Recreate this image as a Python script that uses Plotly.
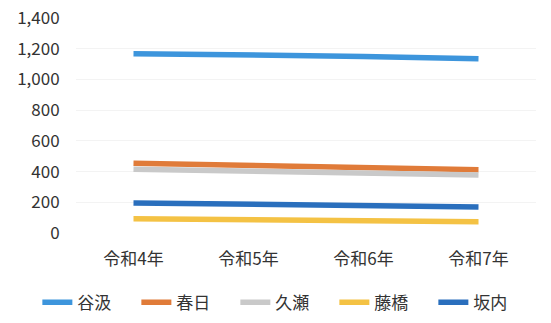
import plotly.graph_objects as go

categories = ["令和4年", "令和5年", "令和6年", "令和7年"]
series_names = ["谷汲", "春日", "久瀬", "藤橋", "坂内"]
tanigumi = [1168, 1160, 1150, 1135]
kasuga = [455, 440, 425, 412]
kuze = [415, 402, 390, 378]
fujihashi = [92, 86, 80, 74]
sakauchi = [196, 190, 180, 170]
series_values = [tanigumi, kasuga, kuze, fujihashi, sakauchi]
colors = ["#3d95dc", "#e07b39", "#c9c9c9", "#f4c244", "#2a6fbd"]
y_ticks = [0, 200, 400, 600, 800, 1000, 1200, 1400]

font_family = "Noto Sans CJK JP, Noto Sans, sans-serif"

fig = go.Figure()
for name, vals, col in zip(series_names, series_values, colors):
    fig.add_trace(go.Scatter(
        x=categories, y=vals, name=name, mode="lines",
        line=dict(color=col, width=5.5),
    ))

fig.update_layout(
    width=551, height=323,
    margin=dict(l=76, r=15, t=18, b=90, autoexpand=False),
    paper_bgcolor="white", plot_bgcolor="white",
    font=dict(family=font_family, size=17, color="#333333"),
    showlegend=True,
    legend=dict(orientation="h", x=-0.084, xanchor="left", y=-0.24, yanchor="top",
                font=dict(size=17), entrywidth=54, entrywidthmode="pixels",
                tracegroupgap=0),
)
fig.update_xaxes(type="category", range=[-0.5, 3.5], showgrid=False, showline=False,
                 zeroline=False, ticks="outside", ticklen=11, tickcolor="white",
                 tickfont=dict(size=17), automargin=False)
fig.update_yaxes(range=[0, 1400], tickvals=y_ticks, tickformat=",d",
                 showgrid=True, gridcolor="#f3f3f3", zeroline=False, showline=False,
                 ticks="outside", ticklen=12, tickcolor="white",
                 tickfont=dict(size=17), automargin=False)

fig.write_html("out.html")
